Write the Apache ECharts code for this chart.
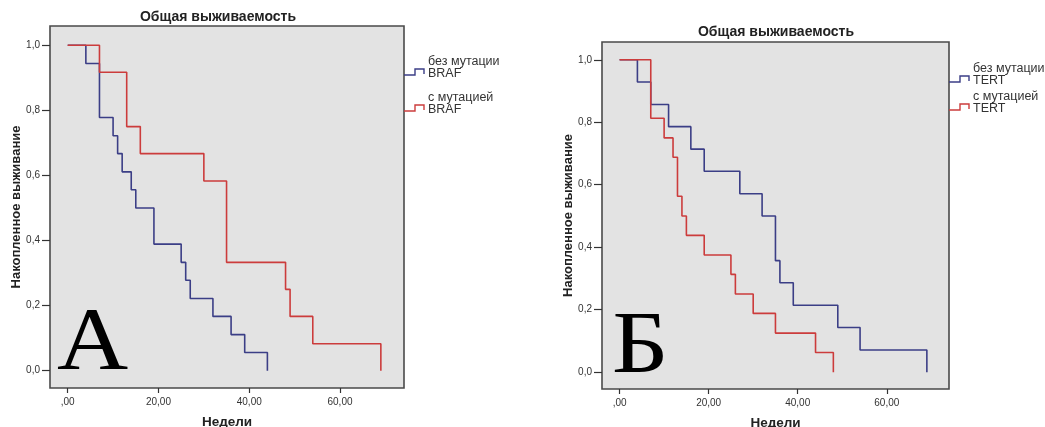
<!DOCTYPE html>
<html>
<head>
<meta charset="utf-8">
<script src="https://cdn.jsdelivr.net/npm/echarts@6/dist/echarts.min.js"></script>
<style>
html,body{margin:0;padding:0;background:#fff;}
#c{width:1045px;height:427px;}
</style>
</head>
<body>
<div id="c"></div>
<script>
// ---- Data (Kaplan-Meier survival, weeks) ----
const titleText = 'Общая выживаемость';
const xAxisName = 'Недели';
const yAxisName = 'Накопленное выживание';
const xTicks = [0, 20, 40, 60];
const yTicks = [0, 0.2, 0.4, 0.6, 0.8, 1.0];

// Panel A: BRAF
const brafNoName = 'без мутации\nBRAF';
const brafNoT = [0, 4, 7, 10, 11, 12, 14, 15, 19, 25, 26, 27, 32, 36, 39, 44];
const brafNoS = [1.0, 0.944, 0.778, 0.722, 0.667, 0.611, 0.556, 0.5, 0.389, 0.333, 0.278, 0.222, 0.167, 0.111, 0.056, 0.0];
const brafYesName = 'с мутацией\nBRAF';
const brafYesT = [0, 7, 13, 16, 30, 35, 48, 49, 54, 69];
const brafYesS = [1.0, 0.917, 0.75, 0.667, 0.583, 0.333, 0.25, 0.167, 0.083, 0.0];

// Panel Б: TERT
const tertNoName = 'без мутации\nTERT';
const tertNoT = [0, 4, 7, 11, 16, 19, 27, 32, 35, 36, 39, 49, 54, 69];
const tertNoS = [1.0, 0.929, 0.857, 0.786, 0.714, 0.643, 0.571, 0.5, 0.357, 0.286, 0.214, 0.143, 0.071, 0.0];
const tertYesName = 'с мутацией\nTERT';
const tertYesT = [0, 7, 10, 12, 13, 14, 15, 19, 25, 26, 30, 35, 44, 48];
const tertYesS = [1.0, 0.813, 0.75, 0.688, 0.563, 0.5, 0.438, 0.375, 0.313, 0.25, 0.188, 0.125, 0.063, 0.0];

const panelLetters = ['А', 'Б'];

// ---- Styles ----
const BLUE = '#3b3e86';
const RED = '#cc3c3c';
const FONT = '"Liberation Sans", Arial, sans-serif';
const SERIF = '"Liberation Serif", "DejaVu Serif", serif';

function pairs(t, s) { return t.map((v, i) => [v, s[i]]); }

function xAx(gi, min, max) {
  return {
    gridIndex: gi, type: 'value', min: min, max: max, position: 'bottom',
    name: xAxisName, nameLocation: 'middle', nameGap: 27, nameMoveOverlap: false,
    nameTextStyle: { fontFamily: FONT, fontSize: 13.5, fontWeight: 'bold', color: '#222' },
    axisLine: { show: false, onZero: false },
    axisTick: { show: true, inside: false, length: 5, lineStyle: { color: '#333', width: 1.2 }, customValues: xTicks },
    axisLabel: { show: true, margin: 9, fontFamily: FONT, fontSize: 10, color: '#333', customValues: xTicks,
      formatter: v => (v === 0 ? ',00' : v + ',00') },
    splitLine: { show: false }
  };
}
function yAx(gi, min, max) {
  return {
    gridIndex: gi, type: 'value', min: min, max: max, position: 'left',
    name: yAxisName, nameLocation: 'middle', nameGap: 27, nameRotate: 90, nameMoveOverlap: false,
    nameTextStyle: { fontFamily: FONT, fontSize: 13, fontWeight: 'bold', color: '#222' },
    axisLine: { show: false, onZero: false },
    axisTick: { show: true, inside: false, length: 8, lineStyle: { color: '#333', width: 1.2 }, customValues: yTicks },
    axisLabel: { show: true, margin: 10, fontFamily: FONT, fontSize: 10, color: '#333', customValues: yTicks,
      formatter: v => v.toFixed(1).replace('.', ',') },
    splitLine: { show: false }
  };
}
function ser(name, t, s, color, xi) {
  return {
    name: name, type: 'line', step: 'end', xAxisIndex: xi, yAxisIndex: xi,
    data: pairs(t, s), showSymbol: false, symbol: 'none',
    lineStyle: { color: color, width: 1.6 }, silent: true, animation: false
  };
}
function legendItem(x0, y0, color, label) {
  return [
    { type: 'polyline', shape: { points: [[x0, y0], [x0 + 11, y0], [x0 + 11, y0 - 6], [x0 + 20, y0 - 6], [x0 + 20, y0 - 1]] },
      style: { stroke: color, lineWidth: 1.4, fill: null } },
    { type: 'text', x: x0 + 24, y: y0 - 19, style: { text: label, fontFamily: FONT, fontSize: 12.5, lineHeight: 12, fill: '#333', verticalAlign: 'top' } }
  ];
}

const chart = echarts.init(document.getElementById('c'), null, { renderer: 'canvas' });
const gridStyle = { show: true, backgroundColor: '#e3e3e3', borderColor: '#4a4a4a', borderWidth: 1.6, containLabel: false, outerBoundsMode: 'none' };

chart.setOption({
  animation: false,
  backgroundColor: '#ffffff',
  grid: [
    Object.assign({ left: 50, top: 26, width: 354, height: 362 }, gridStyle),
    Object.assign({ left: 602, top: 42, width: 347, height: 347 }, gridStyle)
  ],
  xAxis: [xAx(0, -3.9, 74.1), xAx(1, -3.95, 73.97)],
  yAxis: [yAx(0, -0.053, 1.059), yAx(1, -0.054, 1.057)],
  series: [
    ser(brafNoName, brafNoT, brafNoS, BLUE, 0),
    ser(brafYesName, brafYesT, brafYesS, RED, 0),
    ser(tertNoName, tertNoT, tertNoS, BLUE, 1),
    ser(tertYesName, tertYesT, tertYesS, RED, 1)
  ],
  graphic: [
    { type: 'text', x: 218, y: 17, style: { text: titleText, fontFamily: FONT, fontSize: 14, fontWeight: 'bold', fill: '#222', align: 'center', verticalAlign: 'middle' } },
    { type: 'text', x: 776, y: 32, style: { text: titleText, fontFamily: FONT, fontSize: 14, fontWeight: 'bold', fill: '#222', align: 'center', verticalAlign: 'middle' } },
    ...legendItem(404, 75, BLUE, brafNoName),
    ...legendItem(404, 111, RED, brafYesName),
    ...legendItem(949, 82, BLUE, tertNoName),
    ...legendItem(949, 110, RED, tertYesName),
    { type: 'text', x: 57, y: 345, scaleX: 1.12, z: 100, style: { text: panelLetters[0], fontFamily: SERIF, fontSize: 88, fill: '#000', verticalAlign: 'middle',
        shadowColor: 'rgba(0,0,0,0.45)', shadowBlur: 4, shadowOffsetX: 3, shadowOffsetY: 3 } },
    { type: 'text', x: 612, y: 349, scaleX: 1.12, z: 100, style: { text: panelLetters[1], fontFamily: SERIF, fontSize: 88, fill: '#000', verticalAlign: 'middle',
        shadowColor: 'rgba(0,0,0,0.45)', shadowBlur: 4, shadowOffsetX: 3, shadowOffsetY: 3 } }
  ]
});
</script>
</body>
</html>
